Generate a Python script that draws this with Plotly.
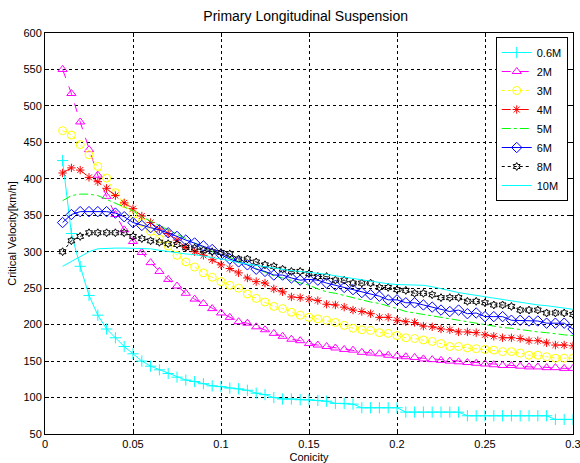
import plotly.graph_objects as go

conicity = [0.01, 0.015, 0.02, 0.025, 0.03, 0.035, 0.04, 0.045, 0.05, 0.055,
            0.06, 0.065, 0.07, 0.075, 0.08, 0.085, 0.09, 0.095, 0.1, 0.105,
            0.11, 0.115, 0.12, 0.125, 0.13, 0.135, 0.14, 0.145, 0.15, 0.155,
            0.16, 0.165, 0.17, 0.175, 0.18, 0.185, 0.19, 0.195, 0.2, 0.205,
            0.21, 0.215, 0.22, 0.225, 0.23, 0.235, 0.24, 0.245, 0.25, 0.255,
            0.26, 0.265, 0.27, 0.275, 0.28, 0.285, 0.29, 0.295, 0.3]

v_06M = [425, 325, 280, 240, 213, 194, 182, 170, 160, 150,
         143, 138, 133, 128, 124, 122, 119, 116, 115, 113,
         112, 110, 106, 104, 100, 98, 98, 97, 97, 96,
         95, 92, 92, 91, 86, 86, 86, 86, 86, 80,
         80, 80, 80, 80, 80, 80, 75, 75, 75, 75,
         75, 75, 75, 75, 75, 75, 70, 70, 70]

v_2M = [550, 517, 478, 440, 405, 376, 351, 330, 314, 299,
        285, 273, 262, 253, 243, 235, 229, 222, 216, 210,
        204, 202, 197, 193, 188, 184, 180, 178, 174, 172,
        170, 168, 166, 165, 162, 161, 160, 158, 157, 156,
        155, 153, 152, 151, 150, 149, 148, 147, 146, 145,
        144, 144, 143, 142, 142, 141, 141, 140, 140]

v_3M = [466, 460, 447, 433, 417, 401, 381, 366, 352, 340,
        328, 318, 308, 295, 286, 279, 271, 265, 259, 254,
        250, 242, 236, 231, 225, 222, 217, 213, 210, 208,
        206, 203, 199, 195, 193, 192, 189, 188, 185, 182,
        181, 179, 177, 174, 170, 170, 168, 167, 166, 165,
        163, 163, 161, 158, 158, 156, 154, 154, 154]

v_4M = [408, 415, 412, 402, 396, 387, 377, 367, 359, 349,
        340, 331, 325, 316, 306, 300, 295, 289, 282, 277,
        271, 264, 259, 257, 249, 245, 238, 237, 235, 233,
        228, 227, 224, 220, 218, 215, 210, 210, 206, 204,
        203, 198, 197, 194, 193, 190, 190, 189, 186, 184,
        182, 182, 181, 178, 178, 175, 172, 172, 171]

v_5M = [370, 377, 379, 379, 377, 372, 367, 362, 356, 348,
        342, 336, 330, 324, 318, 313, 307, 300, 296, 292,
        288, 282, 277, 272, 267, 264, 261, 257, 254, 249,
        245, 243, 240, 236, 233, 231, 229, 226, 222, 218,
        216, 214, 211, 209, 207, 205, 203, 201, 200, 198,
        196, 195, 193, 191, 190, 189, 187, 186, 185]

v_6M = [340, 351, 355, 355, 355, 355, 353, 348, 340, 336,
        333, 330, 326, 321, 316, 312, 308, 303, 296, 290,
        286, 282, 276, 273, 268, 268, 264, 261, 262, 261,
        257, 254, 251, 248, 244, 241, 239, 234, 234, 230,
        230, 227, 224, 220, 218, 220, 215, 216, 211, 211,
        211, 206, 206, 205, 205, 202, 202, 202, 194]

v_8M = [300, 315, 321, 326, 326, 326, 326, 326, 321, 318,
        315, 313, 311, 310, 306, 305, 302, 300, 299, 297,
        290, 290, 286, 282, 280, 276, 273, 273, 270, 266,
        266, 261, 261, 257, 257, 257, 251, 251, 248, 247,
        243, 243, 241, 237, 237, 237, 232, 232, 230, 227,
        227, 225, 220, 220, 220, 216, 216, 216, 214]

v_10M = [280, 287, 294, 300, 304, 305, 305, 305, 305, 305,
         304, 302, 300, 298, 297, 296, 294, 293, 291, 288,
         285, 283, 281, 279, 278, 276, 274, 273, 272, 271,
         269, 267, 265, 263, 261, 259, 257, 256, 255, 255,
         254, 254, 252, 249, 247, 244, 242, 240, 238, 236,
         234, 232, 230, 229, 227, 226, 224, 222, 221]

series = [
    ("0.6M", v_06M, "#00FFFF", "solid", "cross-thin-open", 8),
    ("2M", v_2M, "#FF00FF", "dash", "triangle-up-open", 8),
    ("3M", v_3M, "#FFFF00", "dot", "circle-open", 8),
    ("4M", v_4M, "#FF0000", "dash", "asterisk-open", 7),
    ("5M", v_5M, "#00FF00", "dashdot", None, 0),
    ("6M", v_6M, "#0000FF", "solid", "diamond-open", 8),
    ("8M", v_8M, "#000000", "dot", "hexagram-open", 6),
    ("10M", v_10M, "#00FFFF", "solid", None, 0),
]

fig = go.Figure()
for name, vals, color, dash, sym, msize in series:
    if sym is None:
        fig.add_trace(go.Scatter(x=conicity, y=vals, name=name, mode="lines",
                                 line=dict(color=color, width=1, dash=dash)))
    else:
        fig.add_trace(go.Scatter(x=conicity, y=vals, name=name, mode="lines+markers",
                                 line=dict(color=color, width=1, dash=dash),
                                 marker=dict(symbol=sym, size=msize, color=color,
                                             line=dict(color=color, width=1))))

axis_common = dict(showline=True, linecolor="black", linewidth=1, mirror="ticks",
                   ticks="inside", ticklen=4, tickcolor="black", automargin=False,
                   ticklabeloverflow="allow",
                   showgrid=True, gridcolor="black", gridwidth=1, griddash="3px,3px",
                   zeroline=False, tickfont=dict(family="Liberation Sans", size=11, color="black"))

fig.update_layout(
    width=580, height=463,
    margin=dict(l=45, r=7, t=33, b=29),
    paper_bgcolor="white", plot_bgcolor="white",
    font=dict(family="Liberation Sans", size=11, color="black"),
    title=dict(text="Primary Longitudinal Suspension", x=0.527, xanchor="center",
               y=0.965, yanchor="middle", font=dict(size=14, color="black")),
    xaxis=dict(range=[0, 0.3], dtick=0.05, tick0=0,
               title=dict(text="Conicity", standoff=6, font=dict(size=11)), **axis_common),
    yaxis=dict(range=[50, 600], dtick=50, tick0=50,
               title=dict(text="Critical Velocity[km/h]", standoff=4, font=dict(size=11)), **axis_common),
    legend=dict(x=0.99, y=0.99, xanchor="right", yanchor="top",
                bgcolor="white", bordercolor="black", borderwidth=1,
                font=dict(size=11), tracegroupgap=0, itemwidth=30),
    showlegend=True,
)

fig.write_html("out.html")
